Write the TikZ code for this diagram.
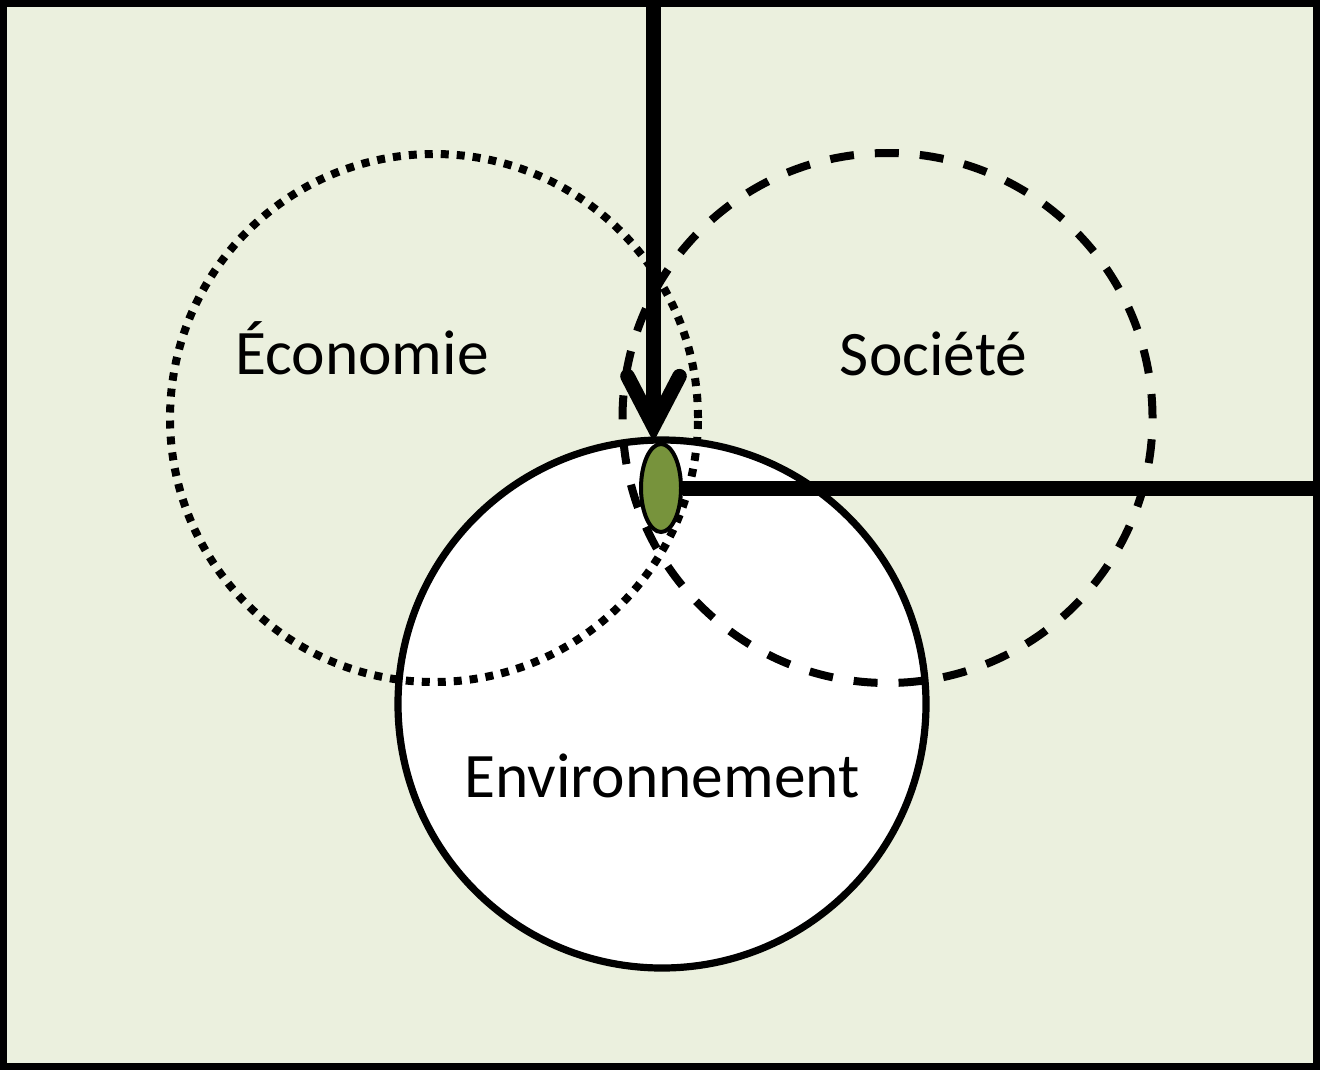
\documentclass[tikz,border=0pt]{standalone}
\usepackage{fontspec}
\setmainfont{Carlito}
\usetikzlibrary{arrows.meta,shapes.geometric}
\definecolor{bgcol}{RGB}{235,240,222}
\definecolor{dotgreen}{RGB}{119,147,60}
\begin{document}
\begin{tikzpicture}[x=0.5pt,y=-0.5pt,
  lbl/.style={font=\fontsize{31.7}{38}\selectfont, inner sep=0pt, anchor=base},
  ring/.style={circle, minimum size=264pt, inner sep=0pt, line width=3.6pt, draw},
  dotring/.style={ring, line width=4pt, dash pattern=on 4pt off 4pt},
  dashring/.style={ring, line width=4pt, dash pattern=on 12pt off 10.5pt},
  thick line/.style={line width=7.3pt}]
\useasboundingbox (0,0) rectangle (1320,1070);
\fill[bgcol] (0,0) rectangle (1320,1070);
\draw[line width=3.5pt] (3.5,3.5) rectangle (1316.5,1066.5);
% circles
\node[ring, fill=white] (env) at (662,704) {};
\node[dotring] (eco) at (434,418) {};
\node[dashring, minimum size=265pt] (soc) at (887.5,418) {};
% centre spot
\node[ellipse, draw, fill=dotgreen, line width=2pt, minimum width=20pt,
      minimum height=44pt, inner sep=0pt] (ell) at (661,488) {};
% connectors
\coordinate (top) at (653.5,0);
\coordinate (right) at (1320,488);
\draw[thick line, -{Straight Barb[length=25pt,width=26pt,line cap=round,line join=miter]}]
  (top) -- (top |- ell.north);
\draw[line width=7.5pt] (ell.east) -- (right);
% labels
\node[lbl] (teco) at (362,374) {Économie};
\node[lbl] (tsoc) at (933.5,375) {Société};
\node[lbl] (tenv) at (662,797) {Environnement};
\end{tikzpicture}
\end{document}
